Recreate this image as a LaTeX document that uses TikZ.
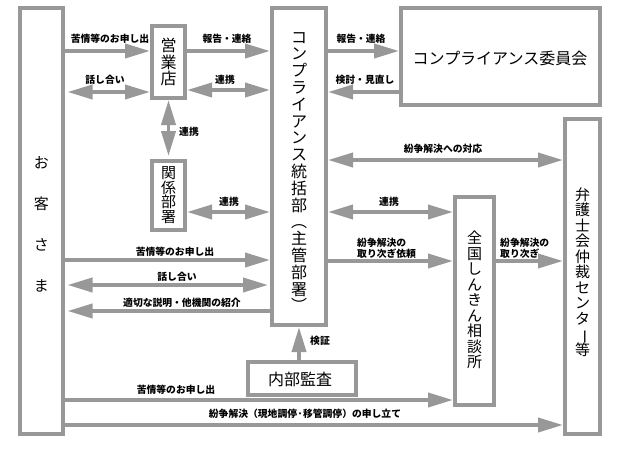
\documentclass[tikz,border=0pt]{standalone}
\usepackage{fontspec}
\newfontfamily\jp{Noto Sans CJK JP}
\usetikzlibrary{arrows.meta}
\definecolor{ln}{RGB}{152,152,152}
\newcommand\vtx[3]{{\jp\fontsize{#1}{#2}\selectfont\lineskiplimit=-50pt\relax\lineskip=0pt\relax\vbox{\halign{\hfil##\hfil\cr#3\cr}}}}
\newcommand\ltx[1]{{\lineskiplimit=-50pt\relax\lineskip=0pt\relax\vbox{\halign{##\hfil\cr#1\cr}}}}
\begin{document}
\begin{tikzpicture}[x=1pt,y=-1pt,
  box/.style={draw=ln,line width=4pt,inner sep=0pt,fill=white},
  arr/.style={draw=ln,line width=3.8pt,-{Triangle[length=25pt,width=14pt]}},
  darr/.style={draw=ln,line width=3.8pt,{Triangle[length=25pt,width=14pt]}-{Triangle[length=25pt,width=14pt]}},
  lbl/.style={font={\jp\bfseries\fontsize{9.8}{11.5}\selectfont},inner sep=0pt},
  txt/.style={inner sep=0pt}]
\useasboundingbox (0,0) rectangle (625,451);
% boxes
\node[box,minimum width=43pt,minimum height=426pt] (cust) at (41.5,221) {};
\node[box,minimum width=33pt,minimum height=72pt] (eigyo) at (168.5,62) {};
\node[box,minimum width=33pt,minimum height=69pt] (kankei) at (168.5,195.5) {};
\node[box,minimum width=54pt,minimum height=317pt] (comp) at (299,166.5) {};
\node[box,minimum width=199pt,minimum height=97pt] (iinkai) at (500.5,56.5) {};
\node[box,minimum width=35pt,minimum height=315pt] (bengo) at (582.5,276.5) {};
\node[box,minimum width=39pt,minimum height=208pt] (zenkoku) at (474.5,301) {};
\node[box,minimum width=108pt,minimum height=33pt] (naibu) at (302,378.5) {};
% box texts
\node[txt] (tcust) at (41.5,224) {\vtx{15}{41}{お\cr 客\cr さ\cr ま}};
\node[txt] (teigyo) at (168.5,62) {\vtx{16}{16.5}{営\cr 業\cr 店}};
\node[txt] (tkankei) at (168.5,195) {\vtx{15}{14.7}{関\cr 係\cr 部\cr 署}};
\node[txt] (tcomp) at (299,172) {\vtx{16}{16.8}{コ\cr ン\cr プ\cr ラ\cr イ\cr ア\cr ン\cr ス\cr 統\cr 括\cr 部\cr ︵\cr 主\cr 管\cr 部\cr 署\cr ︶}};
\node[txt,font={\jp\fontsize{16}{16}\selectfont}] (tiinkai) at (500,58) {コンプライアンス委員会};
\node[txt] (tbengo) at (582.5,272) {\vtx{15}{15.5}{弁\cr 護\cr 士\cr 会\cr 仲\cr 裁\cr セ\cr ン\cr タ\cr \rotatebox[origin=c]{-90}{ー}\cr 等}};
\node[txt] (tzenkoku) at (474.5,300) {\vtx{15}{15.5}{全\cr 国\cr し\cr ん\cr き\cr ん\cr 相\cr 談\cr 所}};
\node[txt,font={\jp\fontsize{16}{16}\selectfont}] (tnaibu) at (300,379) {内部監査};
% connectors
\draw[arr] (cust.east |- 0,51) -- (eigyo.west |- 0,51);
\draw[darr,shorten <=2.5pt] (cust.east |- 0,92) -- (eigyo.west |- 0,92);
\draw[arr] (eigyo.east |- 0,51) -- (comp.west |- 0,51);
\draw[darr] (eigyo.east |- 0,90) -- (comp.west |- 0,90);
\draw[darr,shorten >=3pt] (eigyo.south) -- (kankei.north);
\draw[darr] (kankei.east |- 0,212) -- (comp.west |- 0,212);
\draw[arr] (cust.east |- 0,260) -- (comp.west |- 0,260);
\draw[darr,shorten <=2.5pt,shorten >=2pt] (cust.east |- 0,285) -- (comp.west |- 0,285);
\draw[arr,shorten >=2.5pt] (comp.west |- 0,311) -- (cust.east |- 0,311);
\draw[arr] (comp.east |- 0,51) -- (iinkai.west |- 0,51);
\draw[arr] (iinkai.west |- 0,92) -- (comp.east |- 0,92);
\draw[darr] (comp.east |- 0,160) -- (bengo.west |- 0,160);
\draw[darr] (comp.east |- 0,212) -- (zenkoku.west |- 0,212);
\draw[arr] (comp.east |- 0,261) -- (zenkoku.west |- 0,261);
\draw[arr] (zenkoku.east |- 0,261) -- (bengo.west |- 0,261);
\draw[arr] (naibu.north -| comp.south) -- (comp.south);
\draw[arr] (cust.east |- 0,400) -- (zenkoku.west |- 0,400);
\draw[arr] (cust.east |- 0,425) -- (bengo.west |- 0,425);
% labels
\node[lbl] (l1) at (110,39) {苦情等のお申し出};
\node[lbl] (l2) at (105,80) {話し合い};
\node[lbl] (l3) at (227,39) {報告・連絡};
\node[lbl] (l4) at (225,80) {連携};
\node[lbl] (l5) at (189,132) {連携};
\node[lbl] (l6) at (229,202) {連携};
\node[lbl] (l7) at (175,252) {苦情等のお申し出};
\node[lbl] (l8) at (177,277) {話し合い};
\node[lbl] (l9) at (182,303) {適切な説明・他機関の紹介};
\node[lbl] (l10) at (361,39) {報告・連絡};
\node[lbl] (l11) at (365,80) {検討・見直し};
\node[lbl] (l12) at (443,149) {紛争解決への対応};
\node[lbl] (l13) at (389,202) {連携};
\node[lbl,anchor=west] (l14) at (357,248.5) {\ltx{紛争解決の\cr 取り次ぎ依頼}};
\node[lbl,anchor=west] (l15) at (500,248.5) {\ltx{紛争解決の\cr 取り次ぎ}};
\node[lbl] (l16) at (320,341) {検証};
\node[lbl] (l17) at (176,390) {苦情等のお申し出};
\node[lbl] (l18) at (305,414) {紛争解決（現地調停·移管調停）の申し立て};
\end{tikzpicture}
\end{document}
